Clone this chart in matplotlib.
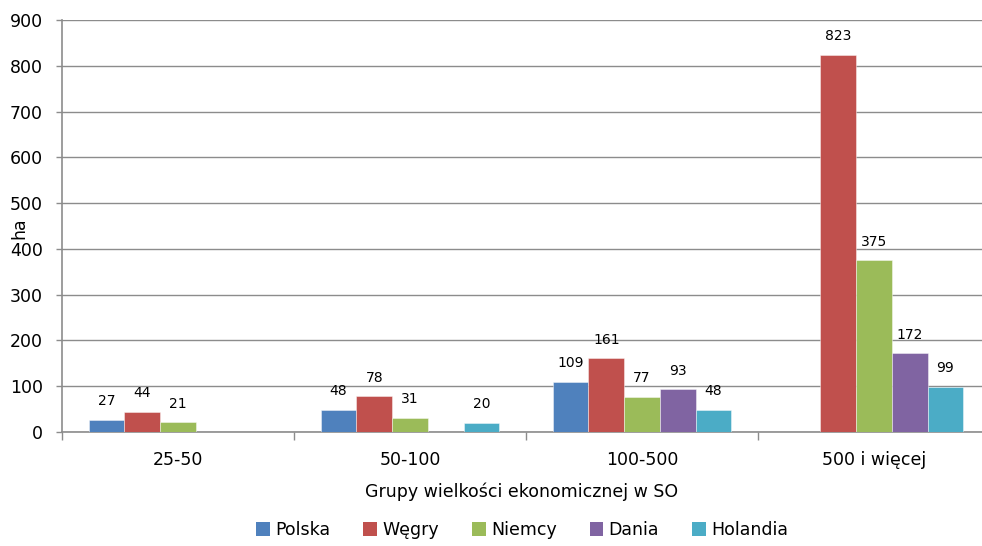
import numpy as np
import matplotlib
matplotlib.use("Agg")
import matplotlib.pyplot as plt
from matplotlib.patches import Patch

categories = ["25-50", "50-100", "100-500", "500 i więcej"]
series_names = ["Polska", "Węgry", "Niemcy", "Dania", "Holandia"]
polska = [27, 48, 109, np.nan]
wegry = [44, 78, 161, 823]
niemcy = [21, 31, 77, 375]
dania = [np.nan, np.nan, 93, 172]
holandia = [np.nan, 20, 48, 99]
colors = ["#4F81BD", "#C0504D", "#9BBB59", "#8064A2", "#4BACC6"]
yticks = [0, 100, 200, 300, 400, 500, 600, 700, 800, 900]

series = [polska, wegry, niemcy, dania, holandia]

plt.rcParams['font.family'] = ['DejaVu Sans']
fig = plt.figure(figsize=(9.82, 5.46), dpi=100)
ax = fig.add_axes([62/982, (546-432)/546, (990-62)/982, (432-20)/546])

x = np.arange(len(categories))
w = 1/6.5
for i, (vals, col) in enumerate(zip(series, colors)):
    pos = x + (i - 2) * w
    v = np.array(vals, dtype=float)
    ax.bar(pos, np.nan_to_num(v), width=w, color=col, edgecolor=(1, 1, 1, 0.5),
           linewidth=0.6, zorder=3)
    for p, val in zip(pos, v):
        if not np.isnan(val):
            ax.annotate(f"{int(val)}", (p, val), xytext=(0, 13.5), textcoords="offset points",
                        ha="center", va="center", fontsize=10, color="black")

ax.set_xlim(-0.5, 3.5)
ax.set_ylim(0, 900)
ax.set_yticks(yticks)
ax.set_yticklabels([str(t) for t in yticks], fontsize=12.5)
ax.yaxis.grid(True, color="#8c8c8c", linewidth=1.0, zorder=0)
ax.set_axisbelow(True)

ax.set_xticks(np.arange(-0.5, 4.0, 1.0))
ax.set_xticklabels([])
ax.set_xticks(x, minor=True)
ax.set_xticklabels(categories, minor=True, fontsize=12.5)
ax.tick_params(axis="x", which="minor", length=0, pad=14)
ax.tick_params(axis="x", which="major", length=6, color="#8c8c8c", width=1)
ax.tick_params(axis="y", length=4.3, color="#8c8c8c", width=1, pad=9.5)

for s in ["top", "right"]:
    ax.spines[s].set_visible(False)
for s in ["left", "bottom"]:
    ax.spines[s].set_color("#8c8c8c")
    ax.spines[s].set_linewidth(1.2)

ax.set_xlabel("Grupy wielkości ekonomicznej w SO", fontsize=12.5)
ax.xaxis.label.set_va("center")
ax.xaxis.set_label_coords((522-62)/(990-62), -(492-432)/(432-20))
ax.set_ylabel("ha", fontsize=12.5)
ax.yaxis.label.set_va("center")
ax.yaxis.set_label_coords(-(62-19)/(990-62), (432-228)/(432-20))

handles = [Patch(facecolor=c, edgecolor="none") for c in colors]
fig.legend(handles, series_names, loc="center", bbox_to_anchor=(522/982, 1-530/546),
           ncol=5, frameon=False, fontsize=12.5, handlelength=0.8, handleheight=0.8,
           handletextpad=0.3, columnspacing=1.9)

fig.savefig("out.png", dpi=100)
